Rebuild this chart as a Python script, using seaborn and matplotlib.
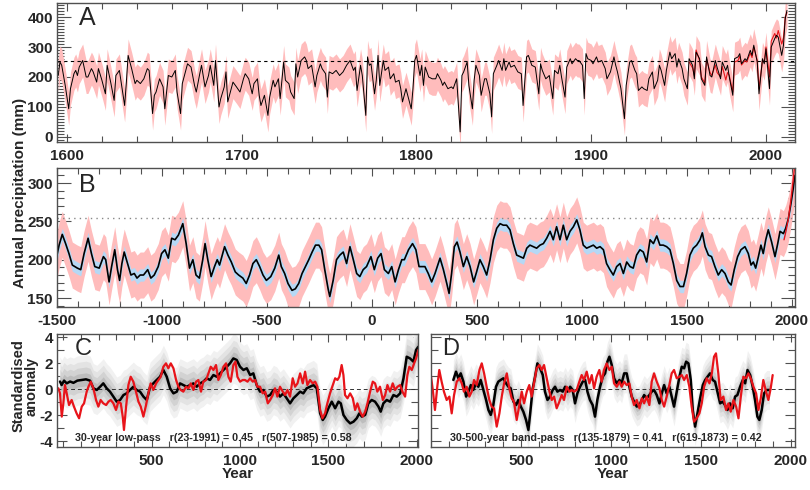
import numpy as np
import pandas as pd
import matplotlib
matplotlib.use("Agg")
import matplotlib.pyplot as plt
import seaborn as sns
from matplotlib.ticker import MultipleLocator, FixedLocator

sns.set_style("ticks")
plt.rcParams['font.family'] = ['Liberation Sans', 'DejaVu Sans']
plt.rcParams['font.weight'] = 'bold'
plt.rcParams['axes.unicode_minus'] = False

# ---------------- Panel A: annual precipitation 1595-2012 ----------------
A_YEARS = [
    1595, 1596, 1597, 1599, 1601, 1602, 1604, 1605, 1606, 1607,
    1609, 1611, 1612, 1614, 1615, 1617, 1618, 1620, 1622, 1623,
    1625, 1627, 1628, 1630, 1633, 1634, 1635, 1637, 1639, 1640,
    1642, 1644, 1646, 1647, 1649, 1650, 1651, 1653, 1655, 1656,
    1658, 1660, 1662, 1663, 1665, 1666, 1668, 1669, 1671, 1673,
    1674, 1676, 1677, 1679, 1681, 1682, 1684, 1685, 1687, 1688,
    1690, 1691, 1692, 1694, 1695, 1697, 1699, 1701, 1702, 1704,
    1706, 1707, 1709, 1710, 1711, 1713, 1715, 1716, 1718, 1719,
    1721, 1722, 1724, 1725, 1727, 1728, 1730, 1731, 1732, 1734,
    1736, 1737, 1738, 1740, 1742, 1743, 1745, 1746, 1748, 1749,
    1750, 1752, 1754, 1756, 1758, 1760, 1762, 1764, 1765, 1766,
    1768, 1769, 1771, 1772, 1773, 1774, 1776, 1777, 1778, 1779,
    1781, 1782, 1784, 1785, 1787, 1788, 1790, 1791, 1792, 1794,
    1795, 1797, 1798, 1799, 1800, 1802, 1803, 1804, 1805, 1807,
    1809, 1811, 1812, 1814, 1815, 1816, 1818, 1820, 1821, 1823,
    1825, 1826, 1827, 1829, 1830, 1832, 1833, 1834, 1836, 1837,
    1839, 1840, 1842, 1843, 1844, 1846, 1847, 1849, 1850, 1851,
    1853, 1854, 1856, 1858, 1860, 1861, 1863, 1864, 1866, 1868,
    1870, 1871, 1872, 1874, 1876, 1878, 1879, 1881, 1882, 1883,
    1885, 1886, 1888, 1889, 1891, 1892, 1893, 1895, 1896, 1897,
    1898, 1900, 1901, 1903, 1904, 1906, 1908, 1909, 1911, 1913,
    1914, 1915, 1917, 1919, 1920, 1922, 1923, 1925, 1926, 1927,
    1929, 1930, 1932, 1933, 1935, 1936, 1938, 1939, 1940, 1942,
    1943, 1945, 1946, 1948, 1949, 1950, 1952, 1953, 1955, 1956,
    1958, 1959, 1960, 1962, 1963, 1965, 1966, 1968, 1969, 1971,
    1972, 1974, 1975, 1977, 1978, 1979, 1981, 1982, 1984, 1985,
    1986, 1988, 1989, 1991, 1992, 1993, 1995, 1996, 1998, 1999,
    2000, 2002, 2003, 2005, 2006, 2007, 2009, 2010, 2011, 2012]
A_PRECIP = [
    205, 250, 239, 172, 94, 161, 211, 222, 205, 233,
    255, 200, 200, 228, 217, 183, 228, 189, 144, 239,
    183, 122, 205, 222, 105, 183, 272, 228, 178, 189,
    178, 194, 228, 222, 78, 139, 150, 194, 167, 94,
    205, 200, 222, 150, 78, 178, 222, 244, 233, 172,
    150, 211, 239, 167, 205, 239, 172, 255, 100, 128,
    167, 217, 117, 161, 183, 167, 150, 194, 211, 194,
    144, 178, 194, 139, 105, 139, 72, 133, 189, 167,
    194, 128, 250, 189, 178, 150, 128, 244, 200, 255,
    267, 255, 228, 239, 167, 205, 244, 228, 211, 133,
    217, 211, 222, 205, 217, 239, 255, 222, 233, 155,
    239, 205, 72, 267, 239, 244, 144, 189, 272, 172,
    255, 222, 233, 194, 211, 183, 189, 161, 117, 161,
    139, 94, 161, 255, 272, 205, 239, 172, 233, 200,
    194, 194, 211, 189, 172, 183, 161, 167, 161, 194,
    17, 205, 217, 250, 172, 94, 189, 239, 205, 139,
    194, 194, 144, 67, 211, 239, 255, 222, 261, 222,
    250, 233, 239, 217, 211, 105, 267, 272, 239, 233,
    144, 244, 222, 194, 205, 128, 222, 211, 239, 200,
    133, 233, 261, 244, 261, 255, 255, 239, 128, 278,
    261, 255, 244, 267, 250, 255, 228, 194, 217, 267,
    239, 217, 161, 61, 172, 250, 255, 222, 211, 155,
    167, 161, 155, 194, 217, 161, 189, 239, 222, 172,
    222, 283, 261, 278, 233, 261, 228, 194, 161, 261,
    239, 194, 283, 261, 194, 172, 267, 205, 200, 255,
    233, 194, 250, 222, 239, 200, 139, 261, 267, 278,
    244, 261, 255, 289, 272, 306, 250, 144, 261, 244,
    294, 161, 300, 328, 339, 333, 272, 306, 394, 422]
A_ERR = 55  # half width of the uncertainty band (mm)
RED_A_YEARS = [1956, 1958, 1959, 1960, 1962, 1963, 1965, 1966, 1968, 1969,
               1971, 1972, 1974, 1975, 1977, 1978, 1979, 1981, 1982, 1984,
               1985, 1986, 1988, 1989, 1991, 1992, 1993, 1995, 1996, 1998,
               1999, 2000, 2002, 2003, 2005, 2006, 2007, 2009, 2010, 2011, 2012]
RED_A = [250, 230, 205, 290, 255, 200, 180, 260, 215, 205,
         240, 215, 200, 235, 190, 215, 205, 150, 250, 255,
         270, 240, 255, 250, 280, 265, 300, 255, 160, 255,
         250, 300, 200, 320, 345, 330, 355, 310, 330, 400, 415]
A_MEAN_LINE = 255

# ---------------- Panel B: smoothed precipitation -1500-2014 ----------------
B_YEARS = [
    -1500, -1490, -1475, -1459, -1443, -1427, -1403, -1387, -1371, -1352,
    -1336, -1320, -1299, -1279, -1268, -1252, -1240, -1225, -1212, -1202,
    -1191, -1180, -1164, -1148, -1132, -1119, -1104, -1088, -1068, -1053,
    -1037, -1018, -1002, -986, -970, -954, -938, -922, -901, -885,
    -869, -853, -838, -822, -806, -795, -782, -766, -750, -737,
    -726, -702, -686, -670, -651, -635, -615, -599, -583, -567,
    -551, -535, -519, -503, -482, -463, -444, -432, -416, -400,
    -381, -365, -349, -333, -317, -301, -285, -269, -253, -240,
    -225, -209, -201, -185, -169, -153, -137, -121, -105, -89,
    -73, -58, -42, -26, -5, 11, 27, 43, 59, 78,
    94, 110, 126, 142, 154, 174, 193, 209, 224, 252,
    268, 284, 300, 324, 340, 356, 367, 379, 392, 405,
    419, 435, 451, 467, 484, 498, 514, 530, 546, 562,
    578, 594, 610, 625, 641, 657, 673, 689, 705, 721,
    737, 752, 768, 784, 800, 816, 832, 848, 863, 879,
    895, 911, 927, 943, 959, 975, 990, 1006, 1022, 1038,
    1054, 1070, 1086, 1102, 1117, 1133, 1149, 1165, 1181, 1197,
    1213, 1229, 1244, 1260, 1276, 1292, 1308, 1324, 1340, 1356,
    1371, 1387, 1403, 1419, 1435, 1451, 1467, 1483, 1498, 1514,
    1530, 1546, 1562, 1573, 1586, 1602, 1617, 1633, 1649, 1665,
    1681, 1697, 1710, 1725, 1741, 1757, 1776, 1792, 1805, 1816,
    1827, 1840, 1852, 1863, 1875, 1887, 1903, 1919, 1932, 1943,
    1959, 1970, 1983, 1995, 2006, 2014]
B_PRECIP = [
    206, 219, 233, 221, 208, 193, 189, 187, 208, 228,
    208, 191, 189, 204, 200, 171, 191, 213, 187, 173,
    195, 210, 195, 180, 182, 176, 180, 180, 187, 176,
    180, 191, 208, 213, 202, 228, 226, 232, 247, 221,
    189, 200, 180, 176, 200, 221, 200, 178, 191, 200,
    193, 217, 206, 197, 184, 180, 176, 169, 180, 195,
    200, 191, 180, 173, 178, 189, 206, 191, 182, 169,
    160, 162, 169, 182, 191, 200, 210, 219, 219, 213,
    187, 162, 152, 173, 200, 206, 210, 195, 217, 200,
    182, 178, 187, 191, 204, 187, 202, 208, 187, 182,
    191, 171, 187, 200, 200, 213, 221, 213, 191, 191,
    182, 171, 182, 202, 187, 169, 156, 182, 217, 223,
    210, 191, 204, 191, 171, 184, 200, 191, 180, 200,
    226, 241, 247, 245, 245, 239, 221, 206, 204, 202,
    215, 219, 217, 215, 219, 221, 228, 237, 226, 243,
    226, 245, 226, 237, 243, 252, 239, 219, 215, 217,
    219, 215, 217, 213, 195, 187, 180, 191, 195, 182,
    197, 191, 189, 206, 213, 210, 197, 226, 221, 231,
    219, 219, 217, 213, 195, 173, 165, 165, 182, 206,
    215, 219, 226, 235, 217, 206, 204, 191, 180, 187,
    182, 171, 167, 187, 204, 213, 217, 208, 193, 197,
    189, 204, 219, 208, 226, 239, 223, 204, 221, 237,
    234, 241, 254, 273, 293, 310]
B_ERR_OUTER = 30   # pink band half width (mm)
B_ERR_INNER = 8    # blue band half width (mm)
RED_B_YEARS = [1962, 1972, 1982, 1992, 2002, 2011]
RED_B = [226, 238, 252, 272, 295, 318]

# ---------------- Panel C: 30-year low-pass (standardised) ----------------
C_BLACK_YEARS = [
    -19, -10, 4, 19, 38, 57, 79, 104, 128, 151,
    170, 189, 208, 226, 245, 264, 283, 302, 321, 340,
    358, 377, 396, 415, 434, 453, 472, 491, 509, 528,
    547, 566, 585, 604, 623, 642, 660, 679, 698, 717,
    736, 755, 774, 792, 811, 830, 849, 868, 887, 906,
    925, 943, 962, 981, 1000, 1019, 1038, 1057, 1075, 1094,
    1113, 1132, 1151, 1170, 1189, 1208, 1226, 1245, 1264, 1283,
    1302, 1321, 1340, 1358, 1377, 1396, 1415, 1434, 1453, 1468,
    1481, 1500, 1519, 1538, 1557, 1570, 1585, 1604, 1623, 1642,
    1660, 1675, 1689, 1708, 1726, 1745, 1764, 1783, 1796, 1811,
    1830, 1849, 1868, 1887, 1906, 1925, 1943, 1962, 1981, 1996,
    2009]
C_BLACK = [
    0.6, 0.33, 0.67, 0.46, 0.6, 0.5, 0.67, 0.72, 0.77, 0.67,
    0.08, -0.05, 0.2, 0.46, 0.08, -0.18, -0.56, -0.95, -0.82, -0.44,
    -0.31, -0.05, 0.2, -0.05, -0.18, -0.56, -0.82, 0.2, 0.46, 0.72,
    0.97, 1.49, 0.97, 0.08, -0.31, -0.18, 0.46, 0.33, 0.2, 0.33,
    0.46, 0.2, 0.46, 0.59, 0.85, 0.72, 1.1, 0.97, 1.23, 1.49,
    1.74, 2.0, 2.38, 2.26, 1.74, 1.49, 1.62, 1.1, 1.23, 0.33,
    -0.18, -0.05, -0.56, -0.44, -0.05, -0.18, -0.56, -0.31, -0.69, -1.08,
    -0.69, -0.44, -0.18, -0.31, 0.08, 0.2, 0.33, 0.08, -1.85, -2.36,
    -2.1, -1.46, -0.95, -1.46, -0.95, -1.08, -1.97, -2.36, -2.62, -2.49,
    -2.23, -1.85, -2.1, -1.97, -1.08, -0.82, -0.95, -1.33, -1.72, -1.08,
    -0.82, -0.95, -0.44, -0.56, -0.31, 0.85, 2.51, 2.38, 2.13, 3.03,
    3.28]
C_RED_YEARS = [
    -28, -19, -9, 0, 9, 19, 32, 47, 60, 75,
    89, 104, 117, 132, 142, 155, 170, 185, 198, 211,
    226, 242, 255, 268, 283, 298, 311, 325, 336, 343,
    355, 368, 381, 396, 411, 425, 438, 453, 466, 481,
    494, 509, 525, 538, 551, 566, 581, 594, 608, 623,
    638, 651, 664, 679, 694, 708, 721, 736, 751, 764,
    779, 792, 808, 821, 834, 849, 864, 877, 891, 906,
    921, 934, 947, 962, 974, 985, 1000, 1015, 1028, 1042,
    1057, 1072, 1085, 1098, 1113, 1128, 1142, 1157, 1170, 1185,
    1198, 1211, 1226, 1242, 1255, 1268, 1283, 1298, 1311, 1325,
    1340, 1355, 1368, 1381, 1396, 1411, 1425, 1438, 1453, 1466,
    1481, 1494, 1509, 1525, 1538, 1551, 1562, 1575, 1585, 1594,
    1608, 1623, 1638, 1651, 1664, 1679, 1694, 1708, 1721, 1736,
    1751, 1764, 1777, 1792, 1808, 1821, 1834, 1849, 1864, 1877,
    1891, 1906, 1919, 1934, 1947, 1958, 1972, 1985, 1996, 2009]
C_RED = [
    0.08, -0.31, -2.1, -1.08, 0.33, -0.31, -1.21, -0.82, -1.33, -1.85,
    -2.23, -1.33, -1.08, -0.18, 0.2, 0.59, 0.08, -0.82, -1.33, -0.82,
    -1.08, -1.21, -0.95, -0.82, -1.08, -1.59, -0.95, -1.08, -2.1, -3.13,
    -1.33, 0.33, 0.97, 0.59, -0.18, -0.95, -1.33, -2.1, -1.33, -0.31,
    0.46, -0.05, 0.46, 0.72, 0.97, 1.74, 2.0, 1.62, 2.0, 1.62,
    0.72, 0.2, -0.05, -0.18, 0.2, 0.08, 0.46, -0.05, 0.59, 0.72,
    -0.18, 0.59, 0.72, 1.23, 1.74, 1.49, 1.87, 0.72, 1.1, 1.74,
    2.0, 0.97, 0.59, 1.87, 2.13, 0.97, 0.59, 0.72, 0.72, 0.59,
    0.85, 0.59, 0.72, 0.2, 0.2, -0.31, -0.18, -1.08, -0.82, -0.44,
    0.08, -0.56, 0.2, -0.18, -0.44, -0.05, -0.56, 0.85, 0.2, 0.46,
    1.23, 0.46, 1.36, 0.33, 0.72, 0.46, 0.59, 0.2, -1.59, -2.23,
    -1.85, -1.08, -0.31, 0.33, 0.85, 0.72, 0.97, 1.87, 1.1, -0.44,
    -0.69, -0.31, -0.69, -1.59, -1.08, -1.72, -2.1, -1.72, -1.08, -0.18,
    0.59, 0.46, -0.18, 0.2, -0.82, -0.44, 0.33, -0.18, 0.46, -0.05,
    0.2, 0.33, -0.18, -0.56, 1.1, 1.74, 1.49, 2.0, 2.38, 3.03]

# ---------------- Panel D: 30-500-year band-pass (standardised) ----------------
D_BLACK_YEARS = [
    125, 140, 153, 166, 181, 196, 209, 222, 236, 251,
    264, 277, 292, 307, 320, 333, 347, 362, 375, 388,
    403, 418, 431, 444, 459, 474, 486, 500, 514, 529,
    542, 551, 566, 579, 592, 607, 622, 634, 648, 662,
    677, 690, 703, 718, 733, 746, 759, 774, 788, 801,
    814, 829, 844, 857, 870, 884, 899, 912, 925, 940,
    955, 968, 981, 992, 1005, 1018, 1033, 1048, 1060, 1074,
    1088, 1103, 1116, 1129, 1144, 1159, 1172, 1185, 1199, 1214,
    1227, 1240, 1255, 1270, 1283, 1296, 1310, 1325, 1338, 1351,
    1366, 1381, 1394, 1407, 1418, 1431, 1444, 1455, 1468, 1481,
    1496, 1511, 1524, 1537, 1551, 1566, 1579, 1592, 1607, 1621,
    1634, 1648, 1662, 1677, 1690, 1703, 1718, 1733, 1746, 1759,
    1774, 1788, 1801, 1814, 1825, 1838, 1851, 1866, 1881]
D_BLACK = [
    0.72, 1.36, 0.85, 1.23, 0.59, -0.56, -0.18, 0.33, -0.05, 0.46,
    0.2, 0.72, -0.05, -0.82, -1.59, -1.97, -1.21, 0.2, 0.59, 0.72,
    0.85, 0.46, 0.2, 0.08, -0.95, -1.21, -0.82, -1.33, -1.72, -2.36,
    -3.13, -1.97, 0.08, 0.97, 2.0, 1.62, 1.1, -0.18, -0.82, -0.56,
    -0.05, 0.2, -0.18, -0.05, -0.18, 0.2, -0.18, 0.2, -0.05, -1.08,
    -0.31, 0.2, 0.59, 0.72, -0.18, -0.82, -1.21, -2.1, -0.82, 0.2,
    0.97, 1.23, 2.13, 2.51, 1.87, 0.85, 0.46, 0.72, 0.46, 1.23,
    1.23, 0.2, -0.56, -0.95, -1.33, -1.21, -0.82, -0.44, -0.69, -0.44,
    -0.18, -0.05, -0.44, -1.08, -0.31, 0.33, -0.31, 0.2, -0.56, -1.33,
    -0.18, 0.97, 1.74, 1.62, 2.13, 2.0, 0.72, -1.59, -2.87, -1.85,
    -0.69, 0.33, 0.72, 0.97, 1.23, 0.72, 0.59, -0.18, -1.08, -0.95,
    -1.21, -1.59, -1.08, -1.46, -0.56, -0.44, 0.2, 0.72, 0.46, 1.49,
    1.1, 0.2, -0.82, -2.1, -2.36, -1.59, -0.31, -0.05, -0.05]
D_RED_YEARS = [
    0, 11, 23, 36, 47, 60, 73, 88, 103, 116,
    129, 144, 159, 172, 184, 199, 214, 227, 240, 255,
    270, 283, 296, 310, 325, 338, 351, 366, 381, 394,
    407, 422, 436, 449, 462, 477, 492, 505, 518, 533,
    547, 560, 573, 588, 603, 616, 629, 644, 659, 672,
    685, 699, 714, 727, 740, 755, 770, 783, 796, 810,
    825, 838, 851, 866, 881, 894, 907, 921, 936, 949,
    962, 977, 992, 1005, 1018, 1033, 1048, 1060, 1074, 1088,
    1103, 1116, 1129, 1144, 1159, 1172, 1185, 1199, 1214, 1227,
    1240, 1255, 1270, 1283, 1296, 1310, 1325, 1338, 1351, 1366,
    1381, 1394, 1407, 1422, 1436, 1449, 1462, 1477, 1492, 1505,
    1518, 1533, 1548, 1561, 1573, 1584, 1597, 1610, 1625, 1640,
    1653, 1666, 1681, 1696, 1709, 1722, 1736, 1751, 1764, 1777,
    1792, 1807, 1820, 1833, 1847, 1862, 1875, 1888, 1899]
D_RED = [
    1.1, -0.05, -1.59, 0.2, 1.49, 0.59, -0.18, -0.82, -0.56, -1.85,
    -0.44, 0.59, 0.85, 0.46, -0.18, 0.2, -0.56, -0.18, 0.72, 0.33,
    1.49, 2.0, 1.23, 0.2, -0.82, -1.33, -1.46, -2.87, -1.85, -0.56,
    0.46, 1.23, 0.08, -0.69, -0.95, -2.36, -1.21, -0.18, -1.08, -0.18,
    0.33, -0.56, 0.46, 1.62, 1.87, 1.49, 1.87, 0.85, -0.18, -0.82,
    -0.56, -1.46, -0.95, -0.44, -0.82, 0.2, -0.18, -0.05, -0.18, -0.05,
    0.59, 1.1, 0.72, 1.36, 0.46, 1.1, 0.08, 0.97, 1.49, 0.59,
    1.49, 2.0, 1.49, 1.74, 0.46, 0.2, 0.59, 0.2, 0.59, 0.33,
    0.46, -0.56, -1.21, -0.82, -1.46, -0.69, -1.08, -0.56, -1.21, 0.59,
    1.23, 0.59, 0.08, -0.82, -1.33, -0.56, 0.33, 1.23, 1.49, 0.85,
    0.97, 1.1, 0.72, 1.1, 0.2, -1.33, -2.49, -2.23, -1.85, -1.08,
    0.2, 0.85, 0.46, 1.23, 2.51, 2.77, 1.23, -0.82, -0.56, -1.59,
    -1.08, -1.72, -0.82, -1.33, -2.23, -0.56, 0.97, 0.85, 1.23, 0.85,
    0.2, -0.31, -1.59, -0.69, 0.72, -0.18, -0.82, 0.08, 1.1]
C_SPREAD = [1.9, 1.4, 0.95, 0.5]   # ensemble envelope half widths (sd units)
D_SPREAD = [1.5, 1.05, 0.7, 0.38]
C_TEXT = "30-year low-pass   r(23-1991) = 0.45   r(507-1985) = 0.58"
D_TEXT = "30-500-year band-pass   r(135-1879) = 0.41   r(619-1873) = 0.42"

for a, b in [(A_YEARS, A_PRECIP), (RED_A_YEARS, RED_A), (B_YEARS, B_PRECIP),
             (C_BLACK_YEARS, C_BLACK), (C_RED_YEARS, C_RED),
             (D_BLACK_YEARS, D_BLACK), (D_RED_YEARS, D_RED)]:
    assert len(a) == len(b), (len(a), len(b))

PINK = '#ffbcbc'
BLUE = '#b5d8f5'
RED = '#e8141a'
SPINE = '#505050'
GREYS = ['#f1f1f1', '#e3e3e3', '#d2d2d2', '#bdbdbd']

W, H = 810, 490
def rect(l, t, r, b):
    return [l / W, 1 - b / H, (r - l) / W, (b - t) / H]

fig = plt.figure(figsize=(8.1, 4.9), dpi=100)
axA = fig.add_axes(rect(57, 3, 795, 142))
axB = fig.add_axes(rect(57, 168, 795, 307))
axC = fig.add_axes(rect(57, 334, 418, 447))
axD = fig.add_axes(rect(431, 334, 795, 447))

def style(ax, ylen=10, ymin=5, xlen=6, xmin=4):
    for s in ax.spines.values():
        s.set_color(SPINE)
        s.set_linewidth(1.0)
    ax.tick_params(which='both', direction='in', top=True, right=True,
                   color=SPINE, labelsize=11, width=0.8)
    ax.tick_params(axis='y', which='major', length=ylen, pad=3)
    ax.tick_params(axis='y', which='minor', length=ymin)
    ax.tick_params(axis='x', which='major', length=xlen, pad=5)
    ax.tick_params(axis='x', which='minor', length=xmin)
    ax.set_xlabel('')
    ax.set_ylabel('')
    ax.grid(False)
    for lab in ax.get_xticklabels() + ax.get_yticklabels():
        lab.set_fontweight('bold')

# ---- A ----
ya = np.array(A_PRECIP, dtype=float)
axA.fill_between(A_YEARS, ya - A_ERR, ya + A_ERR, color=PINK, lw=0)
axA.axhline(A_MEAN_LINE, color='black', lw=0.8, ls=(0, (3, 3)))
sns.lineplot(x=RED_A_YEARS, y=RED_A, ax=axA, color=RED, lw=0.8,
             estimator=None, sort=False)
sns.lineplot(x=A_YEARS, y=A_PRECIP, ax=axA, color='black', lw=0.7,
             estimator=None, sort=False)
axA.set_xlim(1594.3, 2016.6)
axA.set_ylim(-16.7, 446.7)
axA.xaxis.set_major_locator(FixedLocator([1600, 1700, 1800, 1900, 2000]))
axA.xaxis.set_minor_locator(MultipleLocator(20))
axA.yaxis.set_major_locator(MultipleLocator(100))
axA.yaxis.set_minor_locator(MultipleLocator(10))
style(axA)
axA.text(0.03, 0.844, 'A', transform=axA.transAxes, fontsize=18,
         fontweight='normal', va='baseline', ha='left')

# ---- B ----
yb = np.array(B_PRECIP, dtype=float)
axB.fill_between(B_YEARS, yb - B_ERR_OUTER, yb + B_ERR_OUTER, color=PINK, lw=0)
axB.fill_between(B_YEARS, yb - B_ERR_INNER, yb + B_ERR_INNER, color=BLUE, lw=0)
axB.axhline(A_MEAN_LINE, color='#888888', lw=1.0, ls=(0, (1, 3)))
sns.lineplot(x=B_YEARS, y=B_PRECIP, ax=axB, color='black', lw=1.2,
             estimator=None, sort=False)
sns.lineplot(x=RED_B_YEARS, y=RED_B, ax=axB, color=RED, lw=1.0,
             estimator=None, sort=False)
axB.set_xlim(-1500, 2014.3)
axB.set_ylim(138.3, 319.6)
axB.xaxis.set_major_locator(MultipleLocator(500))
axB.xaxis.set_minor_locator(MultipleLocator(100))
axB.yaxis.set_major_locator(MultipleLocator(50))
axB.yaxis.set_minor_locator(MultipleLocator(10))
style(axB)
axB.text(0.03, 0.827, 'B', transform=axB.transAxes, fontsize=18,
         fontweight='normal', va='baseline', ha='left')

# ---- C & D ----
def panel(ax, by, bv, ry, rv, spread, xlim, letter, lx, text, tx):
    bvals = np.array(bv, dtype=float)
    for w, c in zip(spread, GREYS):
        ax.fill_between(by, bvals - w, bvals + w, color=c, lw=0)
    ax.axhline(0, color='#333333', lw=0.7, ls=(0, (4, 3)))
    sns.lineplot(x=by, y=bv, ax=ax, color='black', lw=1.8,
                 estimator=None, sort=False)
    sns.lineplot(x=ry, y=rv, ax=ax, color=RED, lw=1.6,
                 estimator=None, sort=False)
    ax.set_xlim(*xlim)
    ax.set_ylim(-4.44, 4.26)
    ax.xaxis.set_major_locator(FixedLocator([500, 1000, 1500, 2000]))
    ax.xaxis.set_minor_locator(MultipleLocator(100))
    ax.yaxis.set_major_locator(FixedLocator([-4, -2, 0, 2, 4]))
    ax.yaxis.set_minor_locator(MultipleLocator(1))
    style(ax, ylen=7, ymin=5, xlen=6, xmin=4)
    ax.text(lx, 0.814, letter, transform=ax.transAxes, fontsize=17,
            fontweight='normal', va='baseline', ha='left')
    ax.text(tx, 0.056, text, transform=ax.transAxes, fontsize=7.7,
            fontweight='bold', va='baseline', ha='left')
    ax.set_xlabel('Year', fontsize=11, fontweight='bold', labelpad=-1)

panel(axC, C_BLACK_YEARS, C_BLACK, C_RED_YEARS, C_RED, C_SPREAD,
      (-36, 2007), 'C', 0.05, C_TEXT, 0.05)
panel(axD, D_BLACK_YEARS, D_BLACK, D_RED_YEARS, D_RED, D_SPREAD,
      (1, 2023), 'D', 0.03, D_TEXT, 0.052)
axD.tick_params(axis='y', labelleft=False)

fig.text(20 / W, 1 - 193 / H, 'Annual precipitation (mm)', rotation=90,
         ha='center', va='center', fontsize=11, fontweight='bold')
fig.text(25 / W, 1 - 386 / H, 'Standardised\nanomaly', rotation=90,
         ha='center', va='center', fontsize=10.5, fontweight='bold',
         linespacing=0.92)

fig.savefig('out.png', dpi=100)
